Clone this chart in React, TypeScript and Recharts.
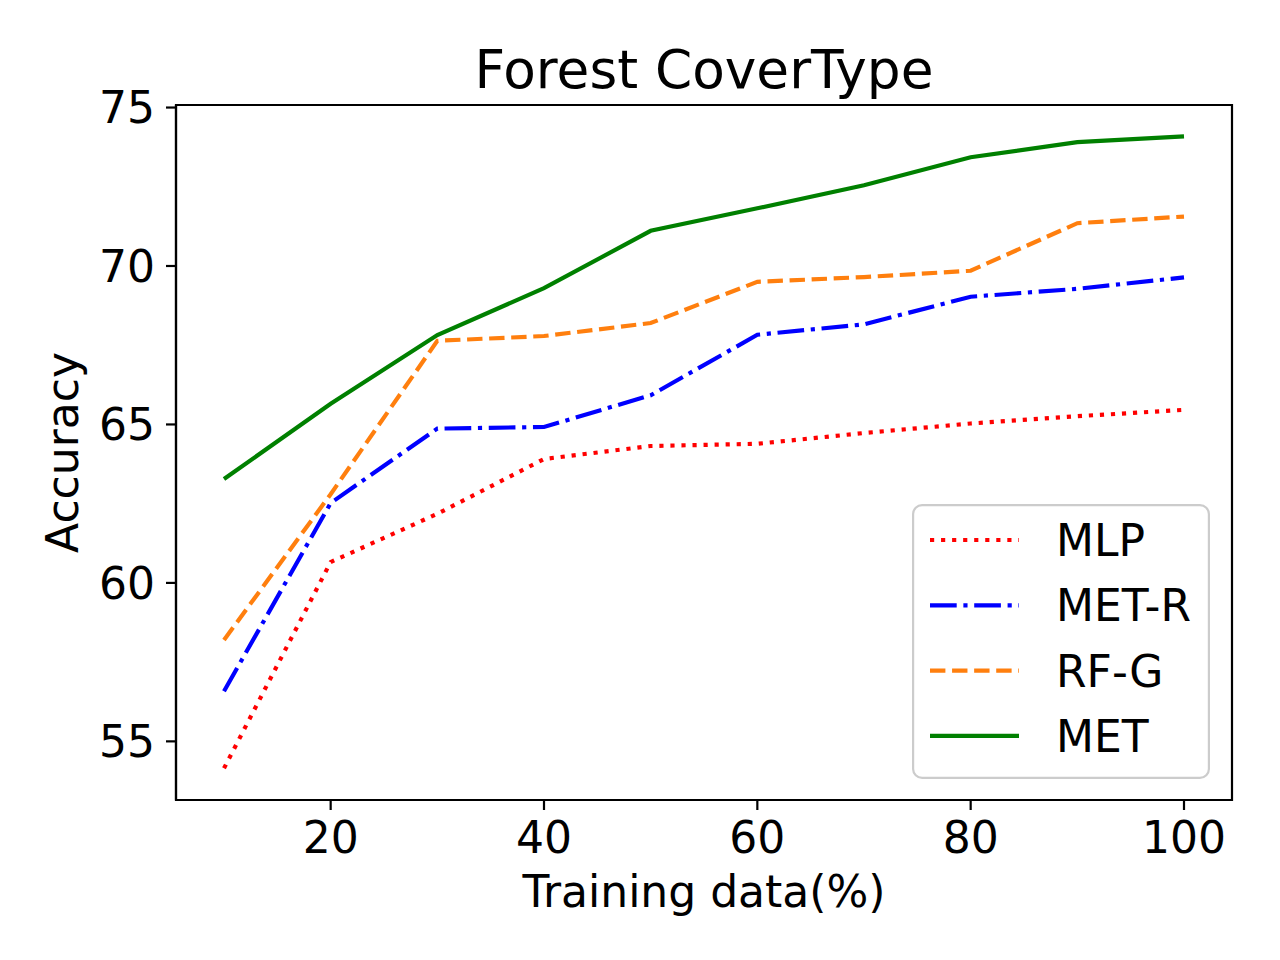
import React from 'react';
import { LineChart, Line, XAxis, YAxis, ReferenceArea, Legend, Label } from 'recharts';

const xValues = [10, 20, 30, 40, 50, 60, 70, 80, 90, 100];
const mlp = [54.15, 60.66, 62.18, 63.91, 64.32, 64.39, 64.73, 65.03, 65.26, 65.46];
const metR = [56.58, 62.52, 64.87, 64.92, 65.92, 67.83, 68.16, 69.03, 69.28, 69.64];
const rfG = [58.2, 62.8, 67.64, 67.79, 68.2, 69.5, 69.65, 69.85, 71.35, 71.56];
const met = [63.28, 65.65, 67.82, 69.3, 71.11, 71.82, 72.55, 73.43, 73.91, 74.09];

const xTicks = [20, 40, 60, 80, 100];
const yTicks = [55, 60, 65, 70, 75];
const xDomain: [number, number] = [5.5, 104.5];
const yDomain: [number, number] = [53.15, 75.08];

const FONT = 'DejaVu Sans';
const LW = 4.17;

const series = [
  { key: 'mlp', name: 'MLP', color: '#ff0000', dash: '4.17 6.875' },
  { key: 'metR', name: 'MET-R', color: '#0000ff', dash: '26.7 6.67 4.17 6.67' },
  { key: 'rfG', name: 'RF-G', color: '#ff7f0e', dash: '15.4 6.67' },
  { key: 'met', name: 'MET', color: '#008000', dash: undefined as string | undefined },
];

const data = xValues.map((x, i) => ({ x, mlp: mlp[i], metR: metR[i], rfG: rfG[i], met: met[i] }));

const LegendBox = () => (
  <svg width={298} height={275} style={{ display: 'block' }}>
    <rect x={1.1} y={1.1} width={295.8} height={272.8} rx={9} ry={9} fill="#ffffff" fillOpacity={0.8} stroke="#cccccc" strokeWidth={2.2} />
    {series.map((s, i) => {
      const cy = 36 + i * 65.3;
      return (
        <g key={s.key}>
          <line x1={18} x2={107} y1={cy} y2={cy} stroke={s.color} strokeWidth={LW} strokeDasharray={s.dash} />
          <text x={144} y={cy + 16} fontSize={44} fontFamily={FONT} fill="#000">{s.name}</text>
        </g>
      );
    })}
  </svg>
);

export default function App() {
  return (
    <div style={{ position: 'absolute', left: 0, top: 0, width: 1280, height: 960, background: '#fff' }}>
      <LineChart width={1280} height={960} data={data} margin={{ top: 105, right: 48, bottom: 0, left: 0 }}>
        <XAxis
          type="number"
          dataKey="x"
          domain={xDomain}
          ticks={xTicks}
          allowDataOverflow
          height={160}
          tickSize={10}
          tickMargin={12}
          axisLine={{ stroke: '#000', strokeWidth: 2.2 }}
          tickLine={{ stroke: '#000', strokeWidth: 2.2 }}
          tick={{ fontSize: 44, fill: '#000', fontFamily: FONT }}
        >
          <Label
            content={(props: any) => {
              const vb = props.viewBox || {};
              return (
                <text x={vb.x + vb.width / 2} y={vb.y + 107} textAnchor="middle" fontSize={44} fontFamily={FONT} fill="#000">
                  Training data(%)
                </text>
              );
            }}
          />
        </XAxis>
        <YAxis
          type="number"
          domain={yDomain}
          ticks={yTicks}
          allowDataOverflow
          width={176}
          tickSize={10}
          tickMargin={11}
          axisLine={{ stroke: '#000', strokeWidth: 2.2 }}
          tickLine={{ stroke: '#000', strokeWidth: 2.2 }}
          tick={{ fontSize: 44, fill: '#000', fontFamily: FONT }}
        >
          <Label
            content={(props: any) => {
              const vb = props.viewBox || {};
              const cx = vb.x + 78;
              const cy = vb.y + vb.height / 2;
              return (
                <text x={cx} y={cy} transform={`rotate(-90, ${cx}, ${cy})`} textAnchor="middle" fontSize={44} fontFamily={FONT} fill="#000">
                  Accuracy
                </text>
              );
            }}
          />
        </YAxis>
        <ReferenceArea
          x1={xDomain[0]}
          x2={xDomain[1]}
          y1={yDomain[0]}
          y2={yDomain[1]}
          fill="none"
          fillOpacity={0}
          stroke="#000"
          strokeWidth={2.2}
          ifOverflow="visible"
        />
        {series.map((s) => (
          <Line
            key={s.key}
            type="linear"
            dataKey={s.key}
            name={s.name}
            stroke={s.color}
            strokeWidth={LW}
            strokeDasharray={s.dash}
            dot={false}
            activeDot={false}
            isAnimationActive={false}
          />
        ))}
        <Legend
          layout="vertical"
          align="center"
          verticalAlign="middle"
          wrapperStyle={{ left: 912, top: 504, width: 298, height: 275 }}
          content={() => <LegendBox />}
        />
        <text x={704} y={88} textAnchor="middle" fontSize={53.3} fontFamily={FONT} fill="#000">
          Forest CoverType
        </text>
      </LineChart>
    </div>
  );
}
